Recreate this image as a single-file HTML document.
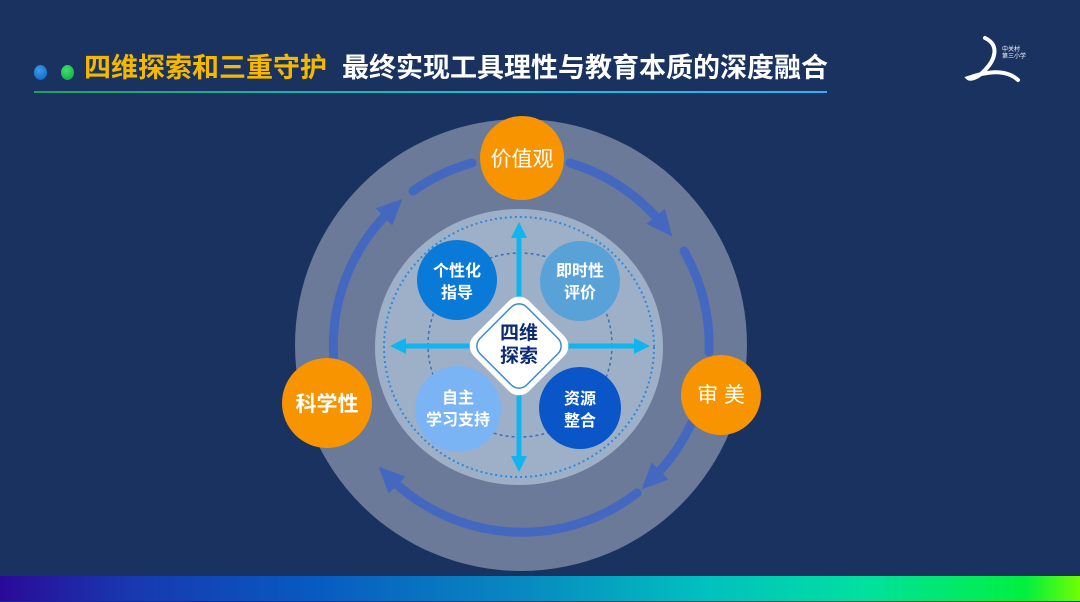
<!DOCTYPE html>
<html><head><meta charset="utf-8"><style>
html,body{margin:0;padding:0;}
body{width:1080px;height:602px;background:#19325f;position:relative;overflow:hidden;font-family:"Liberation Sans","Noto Sans CJK SC",sans-serif;}
.t{position:absolute;top:51px;font-size:27px;font-weight:bold;line-height:34px;white-space:nowrap;}
</style></head><body>
<div style="position:absolute;left:34px;top:65px;width:13px;height:15px;border-radius:50%;background:radial-gradient(circle at 40% 35%,#3a9cf0,#0b5fb8);"></div>
<div style="position:absolute;left:61px;top:65px;width:13px;height:15px;border-radius:50%;background:radial-gradient(circle at 40% 35%,#3ee070,#10a040);"></div>
<div class="t" style="left:84px;color:#f5b800;">四维探索和三重守护</div>
<div class="t" style="left:342px;color:#ffffff;">最终实现工具理性与教育本质的深度融合</div>
<div style="position:absolute;left:34px;top:91px;width:793px;height:2px;background:linear-gradient(90deg,#20a060,#18c0d8 60%,#30b0f0);"></div>
<svg width="1080" height="602" style="position:absolute;left:0;top:0">
<defs>
<marker id="ah" markerUnits="userSpaceOnUse" markerWidth="30" markerHeight="30" refX="10" refY="15" orient="auto"><path d="M0,3 L26,15 L0,27 Z" fill="#4468c0"/></marker>
<marker id="cy" markerUnits="userSpaceOnUse" markerWidth="20" markerHeight="20" refX="6" refY="10" orient="auto"><path d="M0,2 L16,10 L0,18 Z" fill="#10b4ee"/></marker>
</defs>
<path d="M985,38 C1000,45 995,60 985,70 C978,78 970,80 968,78 C985,72 1005,68 1018,80" fill="none" stroke="#fff" stroke-width="4" stroke-linecap="round"/>
<text x="1002" y="51" font-size="6" fill="#fff" font-family="Liberation Sans,Noto Sans CJK SC,sans-serif">中关村</text>
<text x="1002" y="58" font-size="6" fill="#fff" font-family="Liberation Sans,Noto Sans CJK SC,sans-serif">第三小学</text>
<circle cx="521" cy="345" r="226" fill="#6a7a98"/>
<g fill="none" stroke="#4468c0" stroke-width="9" stroke-linecap="round">
<path d="M570,163 A188,188 0 0 1 662,224" marker-end="url(#ah)"/>
<path d="M684,251 A188,188 0 0 1 709,352"/>
<path d="M691,424 A188,188 0 0 1 653,478" marker-end="url(#ah)"/>
<path d="M637,493 A188,188 0 0 1 390,478" marker-end="url(#ah)"/>
<path d="M334,361 A188,188 0 0 1 391,210" marker-end="url(#ah)"/>
<path d="M413,191 A188,188 0 0 1 472,163"/>
</g>
<ellipse cx="519" cy="347" rx="144" ry="138" fill="#9eb0c8"/>
<ellipse cx="519" cy="347" rx="135" ry="130" fill="none" stroke="#2a8ae0" stroke-width="2" stroke-dasharray="2,3"/>
<circle cx="520" cy="345" r="92" fill="none" stroke="#3a70b8" stroke-width="1.5" stroke-dasharray="3,3"/>
<g stroke="#10b4ee" stroke-width="5">
<line x1="519" y1="440" x2="519" y2="232" marker-end="url(#cy)"/>
<line x1="519" y1="250" x2="519" y2="462" marker-end="url(#cy)"/>
<line x1="420" y1="346" x2="640" y2="346" marker-end="url(#cy)"/>
<line x1="620" y1="346" x2="400" y2="346" marker-end="url(#cy)"/>
</g>
<circle cx="457" cy="280" r="40" fill="#0a7ad8"/>
<circle cx="580" cy="281" r="40" fill="#58a2d8"/>
<circle cx="458" cy="409" r="43" fill="#7ab4f4"/>
<circle cx="580" cy="408" r="41" fill="#0a56c8"/>
<rect x="480" y="307" width="78" height="78" rx="14" fill="#fff" transform="rotate(45 519 346)"/>
<rect x="486" y="313" width="66" height="66" rx="11" fill="none" stroke="#3a8ad0" stroke-width="1.5" transform="rotate(45 519 346)"/>
<circle cx="522" cy="158" r="42" fill="#f79400"/>
<circle cx="327" cy="403" r="45" fill="#f79400"/>
<circle cx="721" cy="395" r="40" fill="#f79400"/>
<g font-family="Liberation Sans,Noto Sans CJK SC,sans-serif" text-anchor="middle" fill="#fff">
<text x="522" y="166" font-size="21">价值观</text>
<text x="327" y="411" font-size="21" font-weight="bold">科学性</text>
<text x="721" y="402" font-size="21">审 美</text>
<g font-size="16" font-weight="bold">
<text x="457" y="276">个性化</text><text x="457" y="298">指导</text>
<text x="580" y="276">即时性</text><text x="580" y="298">评价</text>
<text x="458" y="403">自主</text><text x="458" y="425">学习支持</text>
<text x="580" y="404">资源</text><text x="580" y="426">整合</text>
</g>
<text x="519" y="339" font-size="19" font-weight="bold" fill="#0c2a78">四维</text>
<text x="519" y="362" font-size="19" font-weight="bold" fill="#0c2a78">探索</text>
</g>
</svg>
<div style="position:absolute;left:0;top:576px;width:1080px;height:25px;background:linear-gradient(90deg,#2a0a98,#1838b0 12%,#0858c0 28%,#0888c0 48%,#00c0c0 65%,#00e0a0 80%,#00f040 95%,#70ff00);"></div>
</body></html>
